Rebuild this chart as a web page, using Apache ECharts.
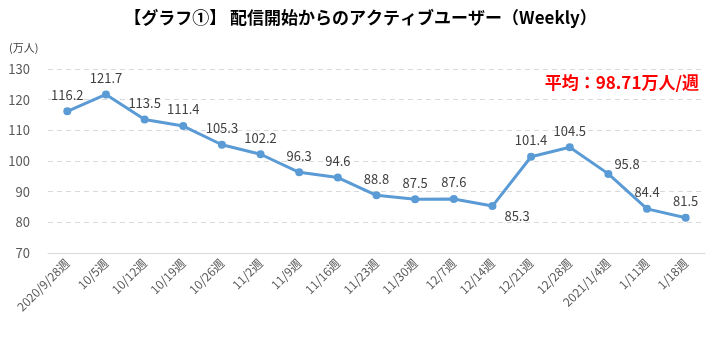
<!DOCTYPE html>
<html><head><meta charset="utf-8">
<script src="https://cdn.jsdelivr.net/npm/echarts@6/dist/echarts.min.js"></script>
<style>html,body{margin:0;padding:0;background:#fff}#c{width:721px;height:340px}</style>
</head><body><div id="c"></div>
<script>
const categories = ['2020/9/28週','10/5週','10/12週','10/19週','10/26週','11/2週','11/9週','11/16週','11/23週','11/30週','12/7週','12/14週','12/21週','12/28週','2021/1/4週','1/11週','1/18週'];
const users = [116.2,121.7,113.5,111.4,105.3,102.2,96.3,94.6,88.8,87.5,87.6,85.3,101.4,104.5,95.8,84.4,81.5];
const yTicks = [70,80,90,100,110,120,130];
const titleText = '【グラフ①】 配信開始からのアクティブユーザー（Weekly）';
const unitText = '(万人)';
const avgText = '平均：98.71万人/週';

const font = '"Noto Sans CJK JP", "Noto Sans", sans-serif';
const data = users.map((v, i) => {
  const d = { value: v };
  if (i === 11) d.label = { position: 'right', offset: [2, 10] };
  if (i === 14) d.label = { position: 'right', offset: [-4, -10] };
  return d;
});
const chart = echarts.init(document.getElementById('c'));
chart.setOption({
  animation: false,
  title: {
    text: titleText, left: 'center', top: 4,
    textStyle: { fontFamily: font, fontSize: 17, fontWeight: 'bold', color: '#000' }
  },
  grid: { left: 48, right: 16, top: 69, bottom: 87 },
  graphic: [
    { type: 'text', left: 9, top: 42, style: { text: unitText, font: '11px ' + font, fill: '#404040' } },
    { type: 'text', right: 22, top: 74, style: { text: avgText, font: 'bold 17px ' + font, fill: '#ff0000' } }
  ],
  xAxis: {
    type: 'category', data: categories, boundaryGap: true,
    axisLine: { lineStyle: { color: '#d9d9d9' } },
    axisTick: { show: false },
    axisLabel: { rotate: 45, interval: 0, color: '#595959', fontSize: 12, fontFamily: font, margin: 8 }
  },
  yAxis: {
    type: 'value', min: yTicks[0], max: yTicks[yTicks.length - 1], interval: 10,
    axisLine: { show: false }, axisTick: { show: false },
    axisLabel: { color: '#595959', fontSize: 13, fontFamily: font, margin: 18 },
    splitLine: { lineStyle: { color: '#d9d9d9', type: [5, 4] } }
  },
  series: [{
    type: 'line', data: data,
    lineStyle: { color: '#5b9bd5', width: 3 },
    itemStyle: { color: '#5b9bd5' },
    symbol: 'circle', symbolSize: 8,
    label: { show: true, position: 'top', color: '#404040', fontSize: 13, fontFamily: font, distance: 6 }
  }]
});
</script></body></html>
